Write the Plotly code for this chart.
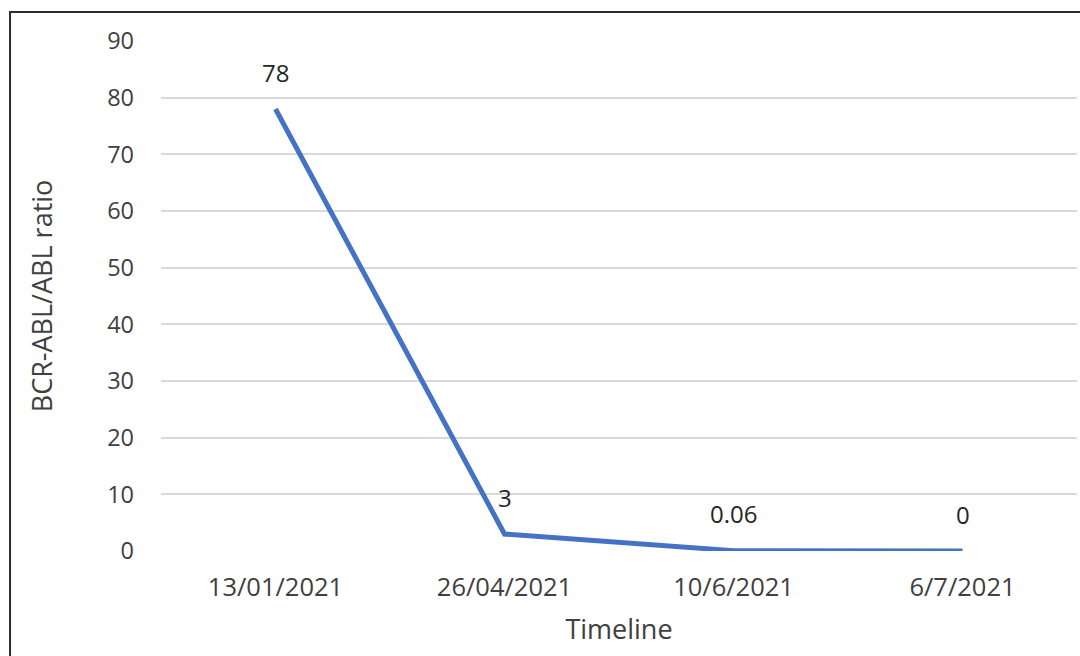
import plotly.graph_objects as go

# Molecular response over time
dates = ["13/01/2021", "26/04/2021", "10/6/2021", "6/7/2021"]
ratio = [78, 3, 0.06, 0]
ratio_labels = ["78", "3", "0.06", "0"]

FONT = "Open Sans"
LINE_BLUE = "#4472C4"

fig = go.Figure()
fig.add_trace(go.Scatter(
    x=dates, y=ratio, mode="lines",
    line=dict(color=LINE_BLUE, width=5),
    hoverinfo="x+y", showlegend=False,
))

# value labels above each point
for d, v, t in zip(dates, ratio, ratio_labels):
    fig.add_annotation(
        x=d, y=v, text=t, showarrow=False,
        yshift=37,
        font=dict(family=FONT, size=24, color="#262626"),
    )

# chart frame
fig.add_shape(
    type="rect", xref="paper", yref="paper",
    x0=-0.1648, x1=1.05, y0=-0.3, y1=1.057,
    line=dict(color="#2b2b2b", width=2), fillcolor="rgba(0,0,0,0)", layer="below",
)

fig.update_layout(
    width=1080, height=656,
    margin=dict(l=161, r=3, t=41, b=105),
    paper_bgcolor="white", plot_bgcolor="white",
    font=dict(family=FONT, color="#404040"),
    xaxis=dict(
        type="category", range=[-0.5, 3.5], automargin=False,
        showgrid=False, showline=False, zeroline=False,
        ticks="", tickfont=dict(size=25.5, color="#404040"),
        ticklabelstandoff=18,
        title=dict(text="Timeline", font=dict(size=27, color="#404040"), standoff=18),
    ),
    yaxis=dict(
        range=[0, 90], dtick=10, automargin=False,
        showgrid=True, gridcolor="#d9d9d9", gridwidth=2,
        zeroline=False, showline=False, ticks="",
        tickfont=dict(size=23.5, color="#404040"),
        ticklabelstandoff=26,
        title=dict(text="BCR-ABL/ABL ratio", font=dict(size=27, color="#404040"), standoff=46),
    ),
)

fig.write_html("out.html")
